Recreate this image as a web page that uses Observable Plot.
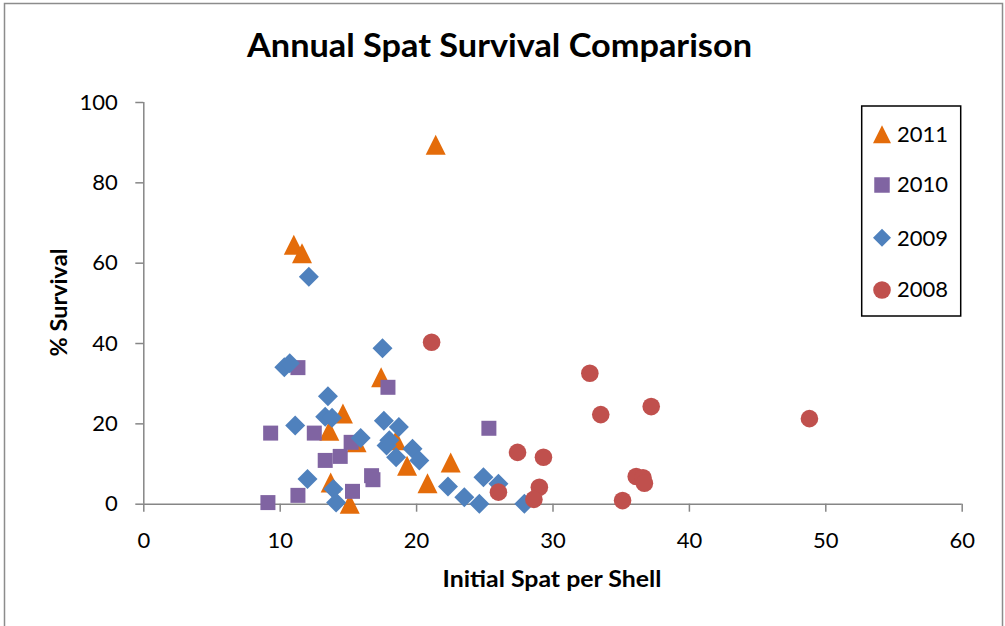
<!DOCTYPE html>
<html>
<head>
<meta charset="utf-8">
<script src="https://cdn.jsdelivr.net/npm/d3@7"></script>
<script src="https://cdn.jsdelivr.net/npm/@observablehq/plot@0.6"></script>
<style>
  html, body { margin: 0; padding: 0; background: #fff; }
  #chart { width: 1005px; height: 626px; overflow: hidden; }
</style>
</head>
<body>
<div id="chart"></div>
<script>
// ---- Data ----
const x2011 = [11.0, 11.6, 21.4, 17.4, 14.6, 13.6, 15.6, 18.5, 19.3, 22.5, 20.8, 13.7, 15.1];
const y2011 = [64.6, 62.5, 89.5, 31.6, 22.6, 18.3, 15.4, 15.9, 9.6, 10.4, 5.2, 5.4, 0.1];

const x2010 = [9.3, 12.5, 15.2, 13.3, 14.4, 16.7, 16.8, 11.3, 9.1, 15.3, 25.3, 11.3, 17.9];
const y2010 = [17.7, 17.7, 15.4, 10.9, 11.9, 7.1, 6.1, 2.2, 0.4, 3.2, 18.9, 34.0, 29.1];

const x2009 = [12.1, 10.3, 10.7, 17.5, 13.5, 11.1, 13.3, 13.8, 15.9, 17.6, 18.7, 18.0, 17.8,
               18.5, 19.7, 20.2, 12.0, 13.9, 14.1, 22.3, 23.5, 24.6, 24.9, 26.0, 27.9];
const y2009 = [56.6, 34.1, 35.1, 38.8, 26.9, 19.6, 21.8, 21.5, 16.5, 20.8, 19.2, 15.9, 14.6,
               11.7, 13.8, 10.9, 6.3, 3.8, 0.4, 4.4, 1.7, 0.1, 6.7, 5.1, 0.1];

const x2008 = [21.1, 32.7, 33.5, 37.2, 27.4, 29.3, 29.0, 28.6, 26.0, 35.1, 36.1, 36.6, 36.7, 48.8];
const y2008 = [40.3, 32.6, 22.3, 24.3, 12.9, 11.7, 4.2, 1.2, 3.0, 0.9, 6.9, 6.6, 5.2, 21.3];

const xTicks = [0, 10, 20, 30, 40, 50, 60];
const yTicks = [0, 20, 40, 60, 80, 100];

const seriesNames = ["2011", "2010", "2009", "2008"];
const seriesColors = ["#E46C0A", "#8064A2", "#4F81BD", "#C0504D"];

// ---- Build tables ----
const toRows = (xs, ys) => xs.map((x, i) => ({x, y: ys[i]}));
const d2011 = toRows(x2011, y2011);
const d2010 = toRows(x2010, y2010);
const d2009 = toRows(x2009, y2009);
const d2008 = toRows(x2008, y2008);

// Isosceles triangle as wide as it is tall (Excel-like marker)
const triSymbol = {
  draw(ctx, size) {
    const h = Math.sqrt(size) / 2;
    ctx.moveTo(0, -h);
    ctx.lineTo(h, h);
    ctx.lineTo(-h, h);
    ctx.closePath();
  }
};
const rTri = Math.sqrt(400 / Math.PI);
const rSq = Math.sqrt(225 / Math.PI);
const rDia = Math.sqrt(255 / Math.PI);
const rCirc = 8.8;

const axisColor = "#868686";

const svg = Plot.plot({
  width: 1005,
  height: 626,
  marginLeft: 143.3,
  marginRight: 43.3,
  marginTop: 102,
  marginBottom: 122.3,
  style: {fontFamily: "Lato, sans-serif", fontSize: "22px", background: "#fff", color: "#000"},
  x: {domain: [0, 60], label: null},
  y: {domain: [0, 100], label: null},
  marks: [
    Plot.ruleY([0], {stroke: axisColor, strokeWidth: 1.5}),
    Plot.ruleX([0], {stroke: axisColor, strokeWidth: 1.5}),
    Plot.axisX({ticks: xTicks, tickSize: 8, tickPadding: 20, stroke: axisColor, strokeWidth: 1.5, label: null, tickFormat: d => d, fill: "#000"}),
    Plot.axisY({ticks: yTicks, tickSize: 8, tickPadding: 18, stroke: axisColor, strokeWidth: 1.5, label: null, tickFormat: d => d, fill: "#000"}),
    Plot.dot(d2011, {x: "x", y: "y", symbol: triSymbol, r: rTri, fill: seriesColors[0], stroke: "none"}),
    Plot.dot(d2010, {x: "x", y: "y", symbol: "square", r: rSq, fill: seriesColors[1], stroke: "none"}),
    Plot.dot(d2009, {x: "x", y: "y", symbol: "diamond2", r: rDia, fill: seriesColors[2], stroke: "none"}),
    Plot.dot(d2008, {x: "x", y: "y", symbol: "circle", r: rCirc, fill: seriesColors[3], stroke: "none"})
  ]
});

document.getElementById("chart").append(svg);

const s = d3.select(svg);

// Title
s.append("text")
  .attr("x", 499.5).attr("y", 57.3)
  .attr("text-anchor", "middle")
  .attr("font-family", "Lato, sans-serif")
  .attr("font-weight", "bold")
  .attr("font-size", 32)
  .attr("textLength", 505)
  .attr("lengthAdjust", "spacingAndGlyphs")
  .attr("fill", "#000")
  .text("Annual Spat Survival Comparison");

// X axis label
s.append("text")
  .attr("x", 552).attr("y", 586.5)
  .attr("text-anchor", "middle")
  .attr("font-family", "Lato, sans-serif")
  .attr("font-weight", "bold")
  .attr("font-size", 22)
  .attr("textLength", 219)
  .attr("lengthAdjust", "spacingAndGlyphs")
  .attr("fill", "#000")
  .text("Initial Spat per Shell");

// Y axis label
s.append("text")
  .attr("transform", "translate(67,302.5) rotate(-90)")
  .attr("text-anchor", "middle")
  .attr("font-family", "Lato, sans-serif")
  .attr("font-weight", "bold")
  .attr("font-size", 22)
  .attr("textLength", 108)
  .attr("lengthAdjust", "spacingAndGlyphs")
  .attr("fill", "#000")
  .text("% Survival");

// Legend
const lg = s.append("g");
lg.append("rect")
  .attr("x", 861.7).attr("y", 106).attr("width", 99).attr("height", 210)
  .attr("fill", "#fff").attr("stroke", "#000").attr("stroke-width", 1.5);
const legendSymbols = [
  d3.symbol(triSymbol, 18 * 18),
  d3.symbol(d3.symbolSquare, 15.5 * 15.5),
  d3.symbol(d3.symbolDiamond2, Math.pow(9 / 0.62625, 2)),
  d3.symbol(d3.symbolCircle, Math.PI * 8.8 * 8.8)
];
const legendY = [134.3, 185, 237.7, 290];
const legendBase = [141.7, 192.3, 245.7, 297.3];
seriesNames.forEach((name, i) => {
  lg.append("path")
    .attr("d", legendSymbols[i]())
    .attr("transform", `translate(882,${legendY[i]})`)
    .attr("fill", seriesColors[i]);
  lg.append("text")
    .attr("x", 897).attr("y", legendBase[i])
    .attr("text-anchor", "start")
    .attr("font-family", "Lato, sans-serif")
    .attr("font-size", 22)
    .attr("fill", "#000")
    .text(name);
});

// Outer chart-area border
s.append("rect")
  .attr("x", 4.5).attr("y", 3.5).attr("width", 998).attr("height", 640)
  .attr("fill", "none").attr("stroke", "#8c8c8c").attr("stroke-width", 1.5);
</script>
</body>
</html>
